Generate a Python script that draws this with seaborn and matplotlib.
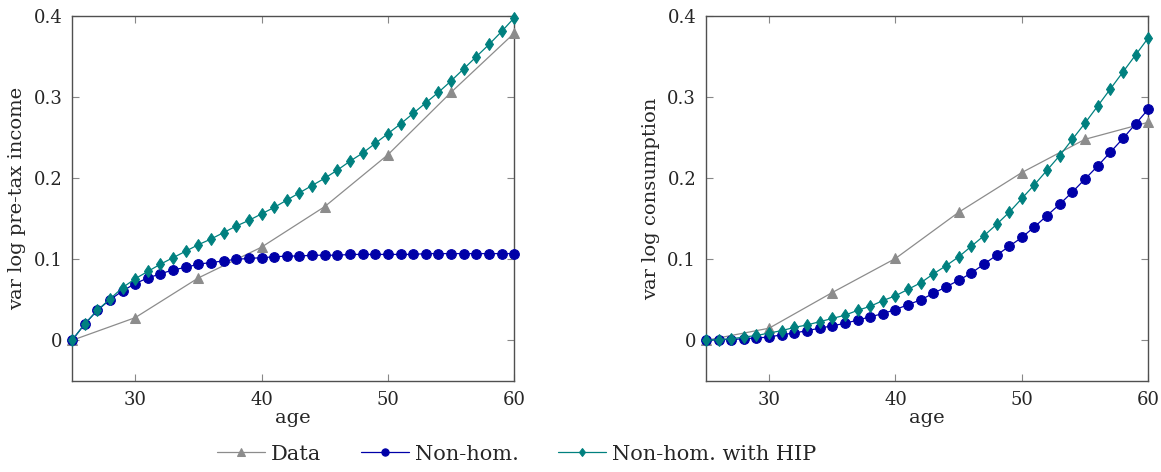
import numpy as np
import pandas as pd
import matplotlib
matplotlib.use("Agg")
import matplotlib.pyplot as plt
import seaborn as sns

# ages
ages_data = [25, 30, 35, 40, 45, 50, 55, 60]
ages_model = list(range(25, 61))

# var log pre-tax income
inc_data = [0.0, 0.028, 0.077, 0.115, 0.165, 0.229, 0.306, 0.379]
inc_nonhom = [0.0, 0.020, 0.037, 0.050, 0.061, 0.070, 0.077, 0.082, 0.087, 0.090,
              0.094, 0.096, 0.098, 0.100, 0.101, 0.102, 0.103, 0.104, 0.104, 0.105,
              0.105, 0.105, 0.106, 0.106, 0.106, 0.106, 0.106, 0.106, 0.107, 0.107,
              0.107, 0.107, 0.107, 0.107, 0.107, 0.107]
inc_hip = [0.0, 0.020, 0.037, 0.051, 0.065, 0.076, 0.085, 0.094, 0.102, 0.110,
           0.118, 0.125, 0.133, 0.141, 0.148, 0.156, 0.164, 0.173, 0.182, 0.191,
           0.200, 0.210, 0.221, 0.231, 0.243, 0.255, 0.267, 0.280, 0.293, 0.306,
           0.320, 0.335, 0.350, 0.365, 0.381, 0.398]

# var log consumption
con_data = [0.0, 0.015, 0.059, 0.101, 0.158, 0.207, 0.248, 0.269]
con_nonhom = [0.0, 0.001, 0.001, 0.002, 0.003, 0.004, 0.007, 0.009, 0.012, 0.015,
              0.018, 0.021, 0.025, 0.029, 0.033, 0.038, 0.044, 0.050, 0.058, 0.066,
              0.074, 0.083, 0.094, 0.105, 0.116, 0.127, 0.140, 0.154, 0.168, 0.183,
              0.199, 0.215, 0.232, 0.249, 0.267, 0.285]
con_hip = [0.0, 0.001, 0.002, 0.004, 0.006, 0.009, 0.012, 0.016, 0.019, 0.023,
           0.027, 0.031, 0.037, 0.042, 0.049, 0.055, 0.063, 0.071, 0.082, 0.092,
           0.103, 0.116, 0.129, 0.143, 0.158, 0.175, 0.192, 0.210, 0.228, 0.248,
           0.268, 0.289, 0.310, 0.331, 0.352, 0.373]

ylabels = ["var log pre-tax income", "var log consumption"]
series_names = ["Data", "Non-hom.", "Non-hom. with HIP"]

gray = "#8c8c8c"
blue = "#0000a8"
teal = "#00807f"

sns.set_style("ticks")
plt.rcParams["font.family"] = ["DejaVu Serif"]
plt.rcParams["mathtext.fontset"] = "dejavuserif"

fig = plt.figure(figsize=(11.61, 4.72), dpi=100)
ax1 = fig.add_axes([0.062, 0.193, 0.381, 0.773])
ax2 = fig.add_axes([0.608, 0.193, 0.381, 0.773])

panels = [(ax1, inc_data, inc_nonhom, inc_hip, ylabels[0]),
          (ax2, con_data, con_nonhom, con_hip, ylabels[1])]

for ax, d, nh, hip, lab in panels:
    sns.lineplot(x=ages_data, y=d, ax=ax, color=gray, lw=0.9, marker="^",
                 markersize=7, markeredgecolor=gray, label=series_names[0],
                 clip_on=False, zorder=3)
    sns.lineplot(x=ages_model, y=nh, ax=ax, color=blue, lw=0.9, marker="o",
                 markersize=7, markeredgecolor=blue, label=series_names[1],
                 clip_on=False, zorder=4)
    sns.lineplot(x=ages_model, y=hip, ax=ax, color=teal, lw=0.9, marker="d",
                 markersize=6, markeredgecolor=teal, label=series_names[2],
                 clip_on=False, zorder=5)
    ax.set_xlim(25, 60)
    ax.set_ylim(-0.05, 0.4)
    ax.set_xticks([30, 40, 50, 60])
    ax.set_yticks([0, 0.1, 0.2, 0.3, 0.4])
    ax.set_yticklabels(["0", "0.1", "0.2", "0.3", "0.4"])
    ax.set_xlabel("age", fontsize=14, labelpad=0)
    ax.set_ylabel(lab, fontsize=14, labelpad=5)
    ax.tick_params(direction="in", length=5, width=0.8, color="#888888",
                   labelsize=13, top=True, right=True, pad=7)
    for sp in ax.spines.values():
        sp.set_color("#505050")
        sp.set_linewidth(1.0)
    ax.get_legend().remove()

handles, labels = ax1.get_legend_handles_labels()
fig.legend(handles, labels, loc="lower center", ncol=3, frameon=False,
           fontsize=15, bbox_to_anchor=(0.445, -0.022), handlelength=2.3,
           columnspacing=1.9, handletextpad=0.3, markerscale=0.75)

fig.savefig("out.png", dpi=100)
